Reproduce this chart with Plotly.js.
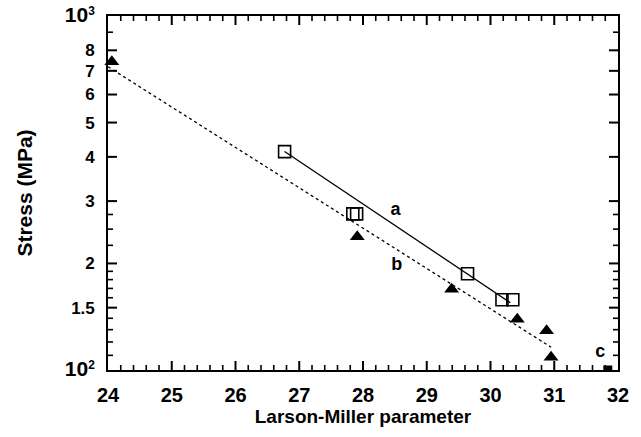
<!DOCTYPE html>
<html><head><meta charset="utf-8">
<script src="https://cdn.plot.ly/plotly-3.0.1.min.js"></script>
<style>html,body{margin:0;padding:0;background:#fff}#plot{width:641px;height:437px}</style>
</head><body><div id="plot"></div>
<script>
// Series a (open squares)
const aX = [26.77, 27.84, 27.90, 29.64, 30.18, 30.35];
const aY = [414, 276, 276, 187, 158, 158];
// Series b (filled triangles)
const bX = [24.06, 27.91, 29.39, 30.42, 30.88, 30.95];
const bY = [743, 238, 169, 139, 129, 108.6];
// Series c
const cX = [31.84];
const cY = [100];
// Fit lines
const aLineX = [26.77, 30.31];
const aLineY = [414, 155];
const bLineX = [24.0, 30.95];
const bLineY = [719, 116];
// Labels
const labelText = ["a", "b", "c"];
const labelX = [28.51, 28.53, 31.72];
const labelY = [283, 197, 111.7];
// Axis ticks
const xRange = [24, 32];
const yRangeLog = [2, 3];
const xTicks = [24, 25, 26, 27, 28, 29, 30, 31, 32];
const yTickVals = [100, 150, 200, 300, 400, 500, 600, 700, 800, 1000];
const yTickText = ["<span style='font-size:21px'>10</span><sup>2</sup>", "1.5", "2", "3", "4", "5", "6", "7", "8", "<span style='font-size:21px'>10</span><sup>3</sup>"];
const yMinor = [110, 120, 130, 140, 160, 170, 180, 190, 225, 250, 275, 900];
const xMinor = [];
for (let i = 0; i < xTicks.length - 1; i++) for (let k = 1; k < 5; k++) xMinor.push(+(xTicks[i] + k * 0.2).toFixed(1));

// Inside tick marks (both sides), built from the tick arrays
const W = 641, H = 437, M = {l: 108, r: 23, t: 16, b: 67};
const dxPerPx = (xRange[1] - xRange[0]) / (W - M.l - M.r);
const dLogPerPx = (yRangeLog[1] - yRangeLog[0]) / (H - M.t - M.b);
const yLo = Math.pow(10, yRangeLog[0]), yHi = Math.pow(10, yRangeLog[1]);
function tickPaths(xs, ys, len) {
  const X = [], Y = [];
  xs.forEach(v => {
    X.push(v, v, null, v, v, null);
    Y.push(yLo, yLo * Math.pow(10, len * dLogPerPx), null, yHi, yHi / Math.pow(10, len * dLogPerPx), null);
  });
  ys.forEach(v => {
    X.push(xRange[0], xRange[0] + len * dxPerPx, null, xRange[1], xRange[1] - len * dxPerPx, null);
    Y.push(v, v, null, v, v, null);
  });
  return {X, Y};
}
const majorT = tickPaths(xTicks.slice(1, -1), yTickVals.slice(1, -1), 9);
const minorT = tickPaths(xMinor, yMinor, 5);

const font = "Liberation Sans, Arial, sans-serif";
const traces = [
  {x: majorT.X, y: majorT.Y, mode: "lines", line: {color: "#000", width: 2}, connectgaps: false, hoverinfo: "skip"},
  {x: minorT.X, y: minorT.Y, mode: "lines", line: {color: "#000", width: 1.6}, connectgaps: false, hoverinfo: "skip"},
  {x: aLineX, y: aLineY, mode: "lines", line: {color: "#000", width: 1.3}, hoverinfo: "skip"},
  {x: bLineX, y: bLineY, mode: "lines", line: {color: "#000", width: 1.3, dash: "3px,3px"}, hoverinfo: "skip"},
  {x: aX, y: aY, mode: "markers", cliponaxis: false,
   marker: {symbol: "square-open", size: 12, color: "#000", line: {width: 1.6, color: "#000"}}},
  {x: bX, y: bY, mode: "markers", cliponaxis: false,
   marker: {symbol: "triangle-up", size: 13, color: "#000"}},
  {x: cX, y: cY, mode: "markers", cliponaxis: true,
   marker: {symbol: "square", size: 9, color: "#000"}},
  {x: labelX, y: labelY, mode: "text", text: labelText, cliponaxis: false,
   textfont: {family: font, size: 18, color: "#000", weight: "bold"}}
];
const layout = {
  width: W, height: H,
  margin: M,
  paper_bgcolor: "#fff", plot_bgcolor: "#fff",
  showlegend: false,
  font: {family: font, color: "#000"},
  xaxis: {
    range: xRange, tickmode: "array", tickvals: xTicks, ticktext: xTicks.map(String),
    ticks: "", showline: true, linecolor: "#000", linewidth: 1.8, mirror: true,
    showgrid: false, zeroline: false, ticklabelstandoff: 6,
    tickfont: {family: font, size: 20, color: "#000", weight: "bold"},
    title: {text: "Larson-Miller parameter", font: {family: font, size: 19, color: "#000", weight: "bold"}, standoff: 0}
  },
  yaxis: {
    type: "log", range: yRangeLog, tickmode: "array", tickvals: yTickVals, ticktext: yTickText,
    ticks: "", showline: true, linecolor: "#000", linewidth: 1.8, mirror: true,
    showgrid: false, zeroline: false, ticklabelstandoff: 8,
    tickfont: {family: font, size: 17, color: "#000", weight: "bold"},
    title: {text: "Stress (MPa)", font: {family: font, size: 21, color: "#000", weight: "bold"}, standoff: 26}
  }
};
Plotly.newPlot("plot", traces, layout, {displayModeBar: false, staticPlot: true});
</script>
</body></html>
